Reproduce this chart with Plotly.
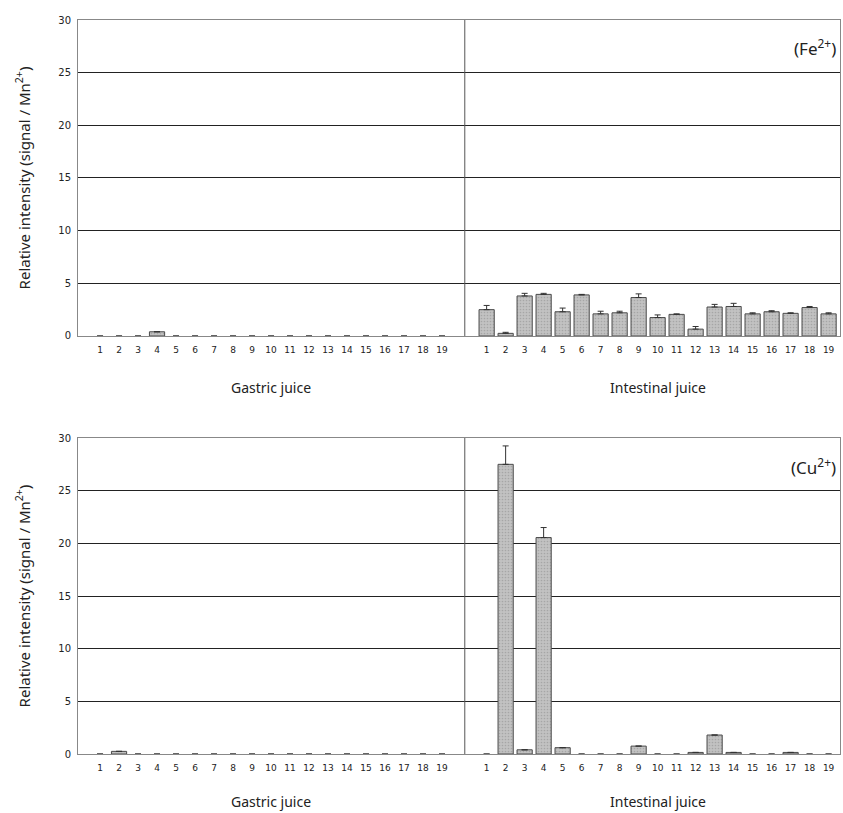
import plotly.graph_objects as go

labels = [str(i) for i in range(1, 20)]

fe_gastric = [0, 0, 0, 0.4, 0, 0, 0, 0, 0, 0, 0, 0, 0, 0, 0, 0, 0, 0, 0]
fe_gastric_err = [0] * 19
fe_intestinal = [2.5, 0.25, 3.8, 3.95, 2.3, 3.9, 2.1, 2.2, 3.65, 1.75, 2.05, 0.65, 2.75, 2.8, 2.1, 2.3, 2.15, 2.7, 2.1]
fe_intestinal_err = [0.4, 0.1, 0.25, 0.1, 0.35, 0.05, 0.25, 0.15, 0.35, 0.25, 0.05, 0.25, 0.25, 0.3, 0.1, 0.1, 0.05, 0.1, 0.1]

cu_gastric = [0, 0.25, 0, 0, 0, 0, 0, 0, 0, 0, 0, 0, 0, 0, 0, 0, 0, 0, 0]
cu_gastric_err = [0] * 19
cu_intestinal = [0, 27.5, 0.4, 20.55, 0.6, 0, 0, 0, 0.75, 0, 0, 0.15, 1.8, 0.15, 0, 0, 0.15, 0, 0]
cu_intestinal_err = [0, 1.75, 0, 0.95, 0, 0, 0, 0, 0, 0, 0, 0, 0, 0, 0, 0, 0, 0, 0]

OFFSET = 20.35
DIVIDER = 20.2
gx = list(range(1, 20))
ix = [i + OFFSET for i in gx]

fig = go.Figure()


def add(xs, ys, err, yaxis, xaxis):
    fig.add_trace(go.Bar(
        x=xs, y=ys, xaxis=xaxis, yaxis=yaxis, width=0.8, showlegend=False,
        marker=dict(color="#c2c2c2",
                    line=dict(color="#4a4a4a", width=[1 if v > 0 else 0 for v in ys]),
                    pattern=dict(shape=".", size=3, solidity=0.25, fgcolor="#8a8a8a")),
        error_y=dict(type="data", symmetric=False, array=err,
                     arrayminus=[0] * len(err), color="#333333",
                     thickness=1, width=3, visible=True)))


add(gx, fe_gastric, fe_gastric_err, "y", "x")
add(ix, fe_intestinal, fe_intestinal_err, "y", "x")
add(gx, cu_gastric, cu_gastric_err, "y2", "x2")
add(ix, cu_intestinal, cu_intestinal_err, "y2", "x2")

tickvals = gx + ix
ticktext = labels + labels
xrange = [-0.16, 39.95]

xcommon = dict(range=xrange, tickvals=tickvals, ticktext=ticktext, showgrid=False,
               zeroline=False, showline=True, linecolor="#888888", linewidth=1, mirror=True,
               ticks="", ticklabelstandoff=5,
               tickfont=dict(family="DejaVu Sans", size=9, color="#222222"))
ycommon = dict(range=[0, 30], dtick=5, showgrid=True, gridcolor="#222222", gridwidth=1,
               zeroline=False, showline=True, linecolor="#888888", linewidth=1, mirror=True,
               ticks="", ticklabelstandoff=4,
               tickfont=dict(family="DejaVu Sans", size=10, color="#222222"),
               title=dict(text="Relative intensity (signal / Mn<sup>2+</sup>)",
                          font=dict(family="Noto Sans", size=15, color="#222222"), standoff=24))

fig.update_layout(
    width=843, height=813,
    margin=dict(l=78, r=3, t=20, b=59),
    plot_bgcolor="white", paper_bgcolor="white",
    bargap=0.2,
    xaxis=dict(domain=[0, 1], anchor="y", **xcommon),
    yaxis=dict(domain=[0.5695, 1], anchor="x", **ycommon),
    xaxis2=dict(domain=[0, 1], anchor="y2", **xcommon),
    yaxis2=dict(domain=[0, 0.4305], anchor="x2", **ycommon),
)

for xa, ya in (("x", "y"), ("x2", "y2")):
    fig.add_shape(type="line", xref=xa, yref=ya, x0=DIVIDER, x1=DIVIDER, y0=0, y1=30,
                  line=dict(color="#555555", width=1))

ann_font = dict(family="Noto Sans", size=14, color="#222222")
for ya, ysh in (("y domain", -52), ("y2 domain", -47)):
    fig.add_annotation(xref="x", yref=ya, x=10, y=0, yshift=ysh, yanchor="middle",
                       text="Gastric juice", showarrow=False, font=ann_font)
    fig.add_annotation(xref="x", yref=ya, x=10 + OFFSET, y=0, yshift=ysh, yanchor="middle",
                       text="Intestinal juice", showarrow=False, font=ann_font)

fig.add_annotation(xref="paper", yref="paper", x=0.997, y=0.962, xanchor="right", yanchor="middle",
                   text="(Fe<sup>2+</sup>)", showarrow=False,
                   font=dict(family="Noto Sans", size=17, color="#222222"))
fig.add_annotation(xref="paper", yref="paper", x=0.997, y=0.392, xanchor="right", yanchor="middle",
                   text="(Cu<sup>2+</sup>)", showarrow=False,
                   font=dict(family="Noto Sans", size=17, color="#222222"))

fig.write_html("out.html", config={"displayModeBar": False},
               post_script="document.body.style.margin='0';")
